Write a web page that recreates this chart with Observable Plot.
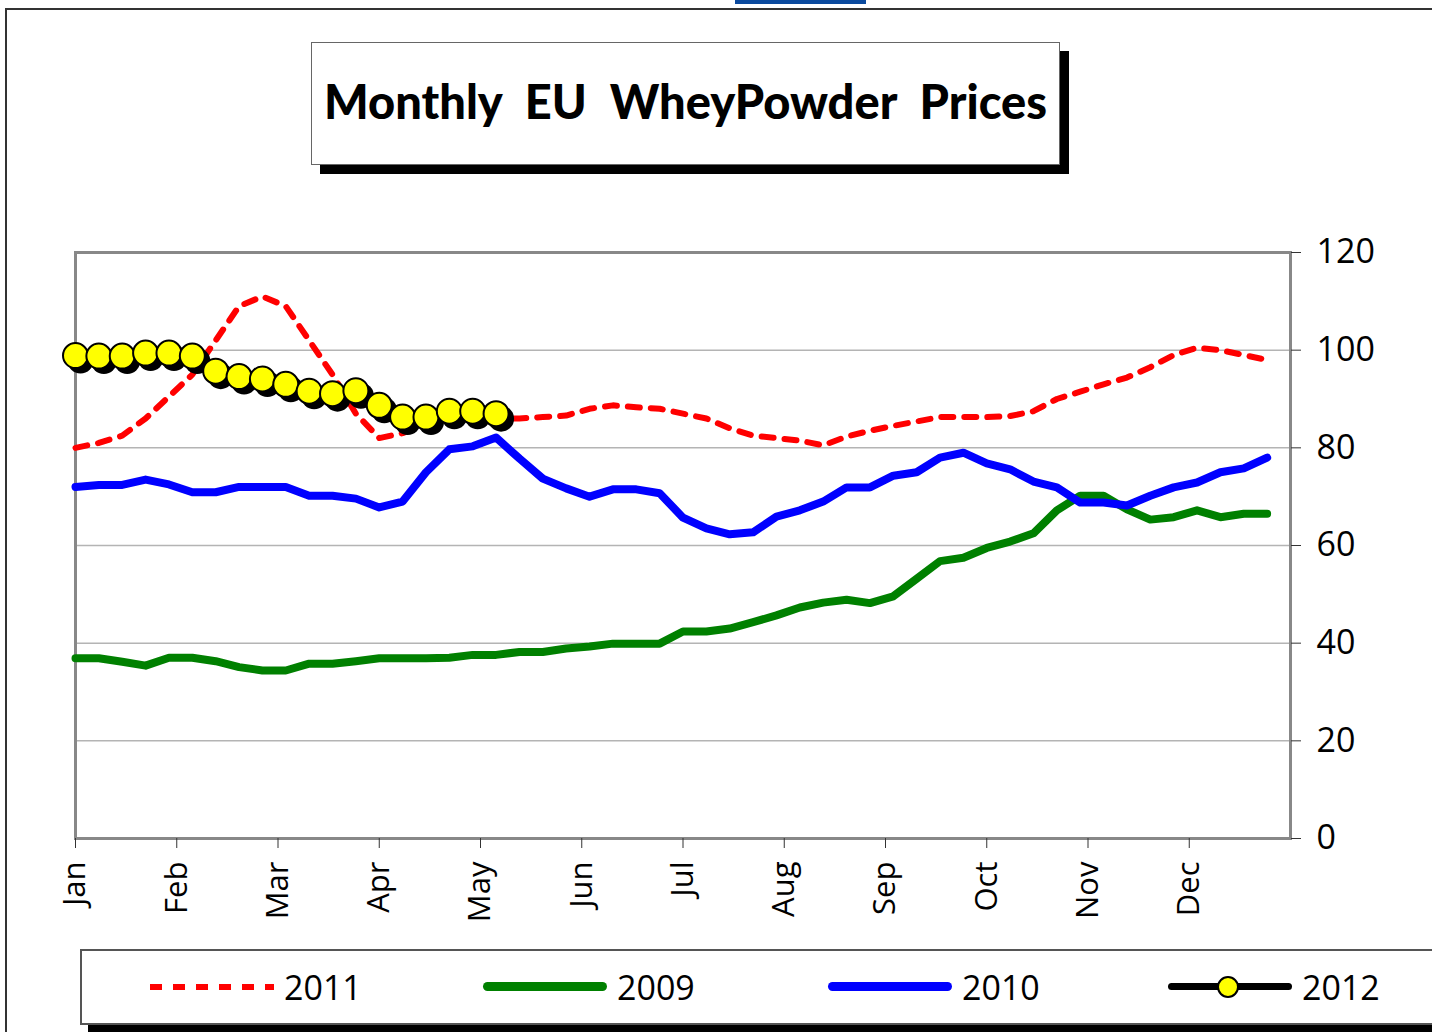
<!DOCTYPE html>
<html>
<head>
<meta charset="utf-8">
<script src="https://cdn.jsdelivr.net/npm/d3@7"></script>
<script src="https://cdn.jsdelivr.net/npm/@observablehq/plot@0.6"></script>
<style>
  html, body { margin: 0; padding: 0; background: #fff; }
  body { width: 1432px; height: 1032px; position: relative; overflow: hidden; font-family: "Open Sans", "Lato", sans-serif; }
  #frame { position: absolute; left: 5px; top: 8px; width: 1500px; height: 1100px; border-left: 2px solid #333; border-top: 2px solid #333; }
  #bluetab { position: absolute; left: 735px; top: 0; width: 131px; height: 4px; background: #0b4a9e; }
  #titlebox { position: absolute; left: 311px; top: 42px; width: 747px; height: 121px; border: 1px solid #666; background: #fff; box-shadow: 9px 9px 0 #000; display: flex; align-items: center; justify-content: center; }
  #titlebox span { font-family: "Lato", sans-serif; font-weight: 900; font-size: 47px; color: #000; word-spacing: 12px; white-space: nowrap; margin-top: -6px; }
  #chart { position: absolute; left: 0; top: 222px; }
  #legend { position: absolute; left: 80px; top: 949px; width: 1400px; height: 72px; border: 2px solid #555; background: #fff; box-shadow: 8px 8px 0 #000; }
  .item { position: absolute; top: 0; height: 72px; display: flex; align-items: center; }
  .lab { font-size: 34px; color: #000; font-family: "Open Sans", sans-serif; }
  .sw { position: relative; height: 20px; margin-right: 10px; }
</style>
</head>
<body>
<div id="frame"></div>
<div id="bluetab"></div>
<div id="titlebox"><span>Monthly EU WheyPowder Prices</span></div>
<div id="chart"></div>
<div id="legend"></div>
<script>
// ---- Data (weekly prices, week 0 = start of January) ----
const months = ["Jan","Feb","Mar","Apr","May","Jun","Jul","Aug","Sep","Oct","Nov","Dec"];
const yTicks = [0, 20, 40, 60, 80, 100, 120];
const seriesNames = ["2011", "2009", "2010", "2012"];

const s2009 = [36.9, 36.9, 36.2, 35.4, 37, 37, 36.3, 35.1, 34.4, 34.4, 35.8, 35.8, 36.3, 36.9, 36.9, 36.9, 37, 37.6, 37.6, 38.2,
  38.2, 38.9, 39.3, 39.9, 39.9, 39.9, 42.4, 42.4, 43, 44.3, 45.7, 47.3, 48.3, 48.9, 48.2, 49.6, 53.2, 56.8, 57.5, 59.5,
  60.8, 62.5, 67.2, 70.2, 70.2, 67.4, 65.3, 65.8, 67.2, 65.8, 66.5, 66.5];

const s2010 = [72, 72.4, 72.4, 73.5, 72.5, 70.9, 70.9, 72, 72, 72, 70.2, 70.2, 69.6, 67.8, 69, 75, 79.7, 80.3, 82.1, 77.8,
  73.7, 71.7, 70, 71.5, 71.5, 70.7, 65.7, 63.5, 62.3, 62.7, 65.9, 67.2, 69, 71.9, 71.9, 74.3, 75, 78, 79, 76.8,
  75.6, 73.1, 71.9, 68.8, 68.8, 68.2, 70.2, 71.9, 72.9, 75, 75.8, 78];

const s2011 = [80, 81, 82.5, 86, 90.5, 95, 102, 109, 111, 109, 102, 95, 87, 82, 83, 85, 86, 86, 86, 86,
  86.3, 86.6, 88, 88.7, 88.3, 88, 87, 86, 84, 82.5, 82, 81.5, 80.5, 82.3, 83.5, 84.5, 85.4, 86.3, 86.3, 86.3,
  86.5, 87.5, 90, 91.5, 93, 94.4, 96.5, 99, 100.5, 100, 99, 98];

const s2012 = [98.9, 98.8, 98.8, 99.4, 99.4, 98.8, 95.7, 94.6, 94.1, 93, 91.6, 91.1, 91.7, 88.7, 86.3, 86.3, 87.5, 87.5, 87];

const toRows = (arr) => arr.map((v, i) => ({week: i, value: v}));
const d2009 = toRows(s2009), d2010 = toRows(s2010), d2011 = toRows(s2011), d2012 = toRows(s2012);
const monthPos = months.map((m, i) => i * 52 / 12);

const chart = Plot.plot({
  width: 1432,
  height: 716,
  marginLeft: 75,
  marginRight: 142,
  marginTop: 30,
  marginBottom: 100,
  x: {domain: [0, 52], axis: null},
  y: {domain: [0, 120], axis: null},
  style: {fontFamily: "'Open Sans', sans-serif", background: "transparent", color: "#000", overflow: "visible"},
  marks: [
    Plot.ruleY(yTicks.slice(1, -1), {stroke: "#b4b4b4", strokeWidth: 1.5}),
    Plot.frame({stroke: "#888", strokeWidth: 3}),
    Plot.axisY({anchor: "right", label: null, ticks: yTicks, tickSize: 10, tickPadding: 16, fontSize: 34, stroke: "#333", tickFormat: d => String(d)}),
    Plot.axisX({anchor: "bottom", label: null, ticks: monthPos, tickSize: 10, tickPadding: 13, tickRotate: -90, fontSize: 31, stroke: "#333",
      tickFormat: d => months[monthPos.indexOf(d)]}),
    Plot.line(d2011, {x: "week", y: "value", stroke: "#ff0000", strokeWidth: 6, strokeDasharray: "12 11"}),
    Plot.line(d2009, {x: "week", y: "value", stroke: "#008000", strokeWidth: 8, strokeLinecap: "round"}),
    Plot.line(d2010, {x: "week", y: "value", stroke: "#0000ff", strokeWidth: 8, strokeLinecap: "round"}),
    Plot.line(d2012, {x: "week", y: "value", stroke: "#000", strokeWidth: 6, dx: 5, dy: 5}),
    Plot.dot(d2012, {x: "week", y: "value", r: 13, fill: "#000", dx: 5, dy: 5}),
    Plot.dot(d2012, {x: "week", y: "value", r: 12.5, fill: "#ffff00", stroke: "#000", strokeWidth: 2})
  ]
});
document.getElementById("chart").appendChild(chart);

// ---- Legend (HTML) ----
const legend = document.getElementById("legend");
const legendItems = [
  {name: seriesNames[0], left: 68, kind: "dash", color: "#ff0000"},
  {name: seriesNames[1], left: 401, kind: "solid", color: "#008000"},
  {name: seriesNames[2], left: 746, kind: "solid", color: "#0000ff"},
  {name: seriesNames[3], left: 1086, kind: "marker", color: "#000"}
];
legendItems.forEach(it => {
  const item = document.createElement("div");
  item.className = "item";
  item.style.left = it.left + "px";
  const sw = document.createElement("div");
  sw.className = "sw";
  sw.style.width = "124px";
  if (it.kind === "dash") {
    sw.innerHTML = `<div style="position:absolute;left:0;top:7px;width:124px;height:6px;background:repeating-linear-gradient(90deg,#ff0000 0 12px,transparent 12px 23px)"></div>`;
  } else if (it.kind === "solid") {
    sw.innerHTML = `<div style="position:absolute;left:0;top:5px;width:124px;height:9px;border-radius:5px;background:${it.color}"></div>`;
  } else {
    sw.innerHTML = `<div style="position:absolute;left:0;top:6px;width:124px;height:7px;border-radius:4px;background:#000"></div>` +
      `<div style="position:absolute;left:49px;top:-1px;width:18px;height:18px;border-radius:50%;background:#ffff00;border:2px solid #000"></div>`;
  }
  const lab = document.createElement("span");
  lab.className = "lab";
  lab.textContent = it.name;
  item.appendChild(sw);
  item.appendChild(lab);
  legend.appendChild(item);
});
</script>
</body>
</html>
